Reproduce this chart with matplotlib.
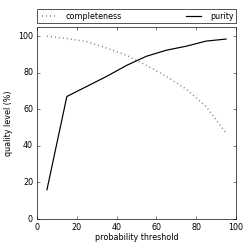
import matplotlib
matplotlib.use('Agg')
import matplotlib.pyplot as plt

thresholds = [5, 15, 25, 35, 45, 55, 65, 75, 85, 95]
completeness = [100, 98.7, 97, 93.5, 89.5, 84, 78, 71, 61.5, 47]
purity = [16, 67, 72.5, 78, 84, 89, 92.3, 94.5, 97.3, 98.4]

plt.style.use('classic')
plt.rcParams['font.size'] = 8
fig = plt.figure(figsize=(249 / 72, 249 / 72), dpi=72)
fig.patch.set_facecolor('white')
ax = fig.add_axes([37 / 249, 30 / 249, 199 / 249, 192 / 249])

ax.plot(thresholds, completeness, ':', color='gray', linewidth=1.5, label='completeness')
ax.plot(thresholds, purity, '-', color='black', linewidth=1.2, label='purity')

ax.set_xlim(0, 100)
ax.set_ylim(0, 105)
ax.set_xticks([0, 20, 40, 60, 80, 100])
ax.set_yticks([0, 20, 40, 60, 80, 100])
ax.set_xlabel('probability threshold', fontsize=8, labelpad=1)
ax.set_ylabel('quality level (%)', fontsize=8)
ax.tick_params(labelsize=8, length=3)
for s in ax.spines.values():
    s.set_color('#555555')

leg = ax.legend(bbox_to_anchor=(0, 1.02, 1, 0.07), loc='lower left', ncol=2,
                mode='expand', borderaxespad=0, fontsize=8, frameon=True,
                handlelength=2.5, borderpad=0.3)
leg.get_frame().set_edgecolor('#555555')

fig.savefig('out.png', dpi=72, facecolor='white')
